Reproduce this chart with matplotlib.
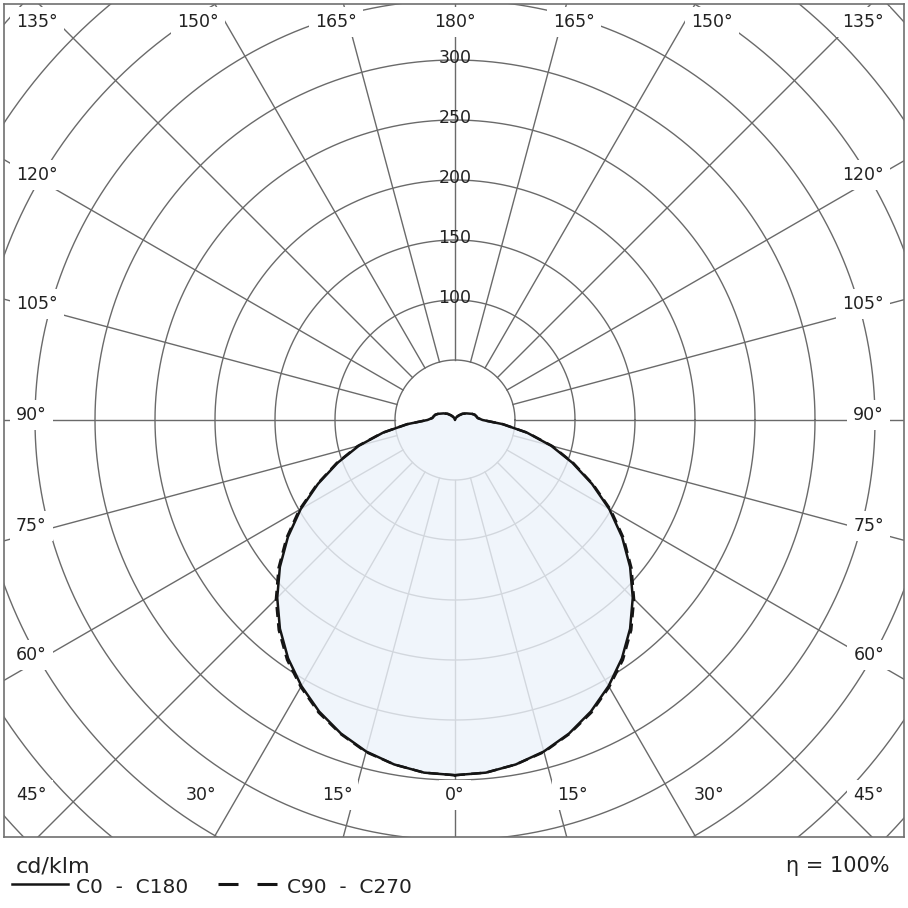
import numpy as np
import matplotlib
matplotlib.use("Agg")
import matplotlib.pyplot as plt
from matplotlib.lines import Line2D

# ---------------- data (cd/klm) ----------------
gamma_deg = [0, 5, 10, 15, 20, 25, 30, 35, 40, 45, 50, 55, 60, 65, 70, 75, 80, 85,
             90, 95, 100, 105, 110, 120, 130, 140, 150, 160, 170, 180]
c0_c180 = [296, 295, 291.5, 286, 278, 268, 256, 242.5, 227, 209.5, 190.5, 170, 148.5,
           126, 104, 83, 61, 40, 23, 19, 18, 17, 15, 11, 8, 5, 3, 1.5, 0.5, 0]
c90_c270 = [296, 295, 291.5, 286.5, 278.5, 269, 257, 244, 228.5, 211, 192, 171.5, 150,
            127, 105, 84, 61.5, 40, 23, 19, 18, 17, 15, 11, 8, 5, 3, 1.5, 0.5, 0]
rings = [50, 100, 150, 200, 250, 300, 350, 400, 450, 500, 550]
ring_labels = [100, 150, 200, 250, 300]
angle_ticks = [0, 15, 30, 45, 60, 75, 90, 105, 120, 135, 150, 165, 180]
unit_label = "cd/klm"
legend_solid = "C0  -  C180"
legend_dashed = "C90  -  C270"
eta_label = "\u03b7 = 100%"

# ---------------- layout ----------------
W = H = 908
PX = 1.2            # pixels per cd/klm
CX, CY = 455, 420   # pole in pixels
FL, FR, FT, FB = 4, 904, 4, 837
GRID = "#6a6a6a"
INK = "#151515"
SANS = ["DejaVu Sans"]

fig = plt.figure(figsize=(W / 100, H / 100), dpi=100)
fig.patch.set_facecolor("white")
ax = fig.add_axes([FL / W, 1 - FB / H, (FR - FL) / W, (FB - FT) / H])
ax.set_xlim((FL - CX) / PX, (FR - CX) / PX)
ax.set_ylim((CY - FB) / PX, (CY - FT) / PX)
ax.set_xticks([])
ax.set_yticks([])
for sp in ax.spines.values():
    sp.set_color("#707070")
    sp.set_linewidth(1.2)
    sp.set_zorder(10)

# grid rings
t = np.linspace(0, 2 * np.pi, 1441)
for r in rings:
    ax.plot(r * np.cos(t), r * np.sin(t), color=GRID, lw=1.0, zorder=1)

# radial lines
rr = np.array([rings[0], 900])
for g in angle_ticks:
    gr = np.deg2rad(g)
    for s in (1, -1):
        if g in (0, 180) and s == -1:
            continue
        ax.plot(s * rr * np.sin(gr), -rr * np.cos(gr), color=GRID, lw=1.0, zorder=1)

# curves
g = np.deg2rad(np.array(gamma_deg, dtype=float))


def outline(vals):
    v = np.array(vals, dtype=float)
    xr = v * np.sin(g)
    y = -v * np.cos(g)
    return np.concatenate([xr, -xr[::-1]]), np.concatenate([y, y[::-1]])


X0, Y0 = outline(c0_c180)
X9, Y9 = outline(c90_c270)
ax.fill(X0, Y0, color="#edf3fb", alpha=0.8, lw=0, zorder=2)
ax.plot(X9, Y9, color=INK, lw=1.8, ls=(0, (4, 2.5)), zorder=3)
ax.plot(X0, Y0, color=INK, lw=1.8, zorder=4)

# angle labels
BOX = dict(boxstyle="square,pad=0.35", fc="white", ec="none")
for gdeg in angle_ticks:
    gr = np.deg2rad(gdeg)
    for s in (1, -1):
        if gdeg in (0, 180) and s == -1:
            continue
        ha = "center"
        if gdeg <= 45:
            ypx = -375
            xpx = 440 * np.tan(gr)
        elif gdeg >= 135:
            ypx = 398
            xpx = 445 * np.tan(np.pi - gr)
        else:
            xpx = 1e9
            ypx = -415 * np.cos(gr) / np.sin(gr) + 5
        if xpx >= 415:
            # side column / corners: aligned to the frame
            xpx = 439 if s == 1 else 439
            ha = "left" if s == -1 else "right"
            xpx = (CX - 16) if s == -1 else (884 - CX)
        ax.text(s * xpx / PX, ypx / PX, f"{gdeg}\u00b0", ha=ha, va="center",
                fontsize=12.5, family=SANS, color="#222222", zorder=8, bbox=BOX)

# ring value labels
for v in ring_labels:
    ax.text(0, v + 2, str(v), ha="center", va="center", fontsize=12.5,
            family=SANS, color="#222222", zorder=8)

# ---------------- legend ----------------
def fx(p):
    return p / W


def fy(p):
    return 1 - p / H


fig.text(fx(16), fy(872), unit_label, ha="left", va="baseline", fontsize=16,
         family=SANS, color="#222222")
fig.add_artist(Line2D([fx(12), fx(68)], [fy(884), fy(884)], color=INK, lw=1.8,
                      transform=fig.transFigure))
fig.text(fx(76), fy(893), legend_solid, ha="left", va="baseline", fontsize=14.5,
         family=SANS, color="#222222")
fig.add_artist(Line2D([fx(218), fx(277)], [fy(884), fy(884)], color=INK, lw=2.2,
                      ls=(0, (20 / 1.389 / 2.2, 19 / 1.389 / 2.2)),
                      transform=fig.transFigure))
fig.text(fx(287), fy(893), legend_dashed, ha="left", va="baseline", fontsize=14.5,
         family=SANS, color="#222222")
fig.text(fx(889), fy(872), eta_label, ha="right", va="baseline", fontsize=15,
         family=SANS, color="#222222")

fig.savefig("out.png", dpi=100, facecolor="white")
